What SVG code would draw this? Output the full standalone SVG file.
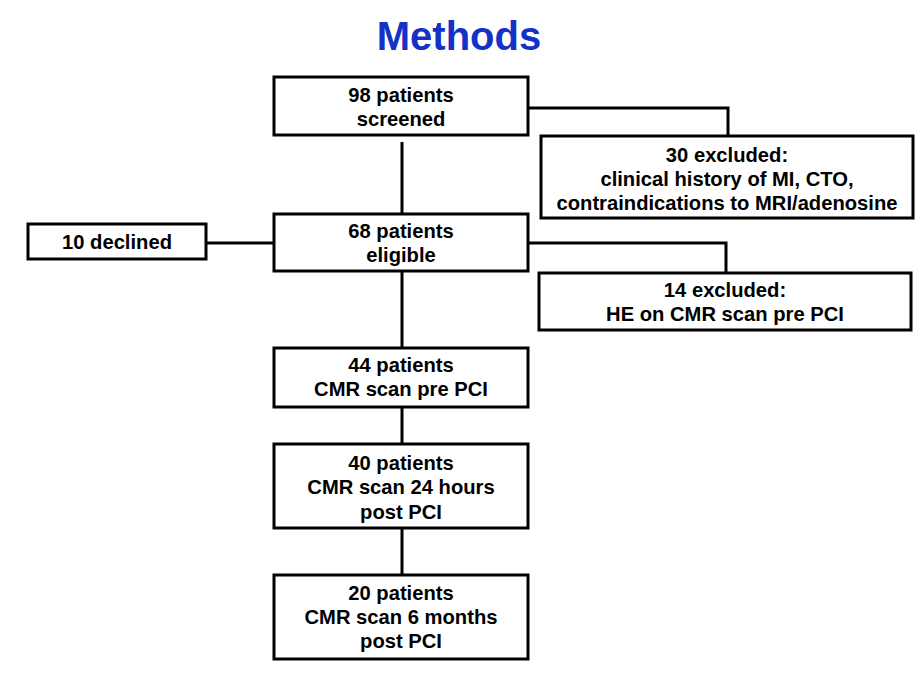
<svg xmlns="http://www.w3.org/2000/svg" width="920" height="690" viewBox="0 0 920 690">
<style>
.box{fill:#fff;stroke:#000;stroke-width:3}
.t{font-family:"Liberation Sans",Arial,sans-serif;font-weight:bold;font-size:20.2px;fill:#000;text-anchor:middle}
.title{font-family:"Liberation Sans",Arial,sans-serif;font-weight:bold;font-size:40px;fill:#1432c8;text-anchor:middle}
.c{fill:none;stroke:#000;stroke-width:3}
</style>
<rect width="920" height="690" fill="#fff"/>
<text class="title" x="459" y="50">Methods</text>
<g id="connectors">
<path class="c" d="M402,142 V213"/>
<path class="c" d="M529,108 H728 V135"/>
<path class="c" d="M206,243 H274"/>
<path class="c" d="M529,243 H726 V272"/>
<path class="c" d="M402,272 V347"/>
<path class="c" d="M402,407 V443"/>
<path class="c" d="M402,529 V575"/>
</g>
<g id="screened">
<rect class="box" x="274" y="77" width="254" height="58"/>
<text class="t" x="401" y="102">98 patients</text>
<text class="t" x="401" y="126">screened</text>
</g>
<g id="excluded30">
<rect class="box" x="541" y="136" width="372" height="82"/>
<text class="t" x="727" y="162">30 excluded:</text>
<text class="t" x="727" y="186">clinical history of MI, CTO,</text>
<text class="t" x="727" y="210">contraindications to MRI/adenosine</text>
</g>
<g id="declined">
<rect class="box" x="28" y="224" width="178" height="35"/>
<text class="t" x="117" y="249">10 declined</text>
</g>
<g id="eligible">
<rect class="box" x="274" y="214" width="254" height="57"/>
<text class="t" x="401" y="238">68 patients</text>
<text class="t" x="401" y="262">eligible</text>
</g>
<g id="excluded14">
<rect class="box" x="539" y="273" width="372" height="57"/>
<text class="t" x="725" y="297">14 excluded:</text>
<text class="t" x="725" y="321">HE on CMR scan pre PCI</text>
</g>
<g id="pre">
<rect class="box" x="274" y="348" width="254" height="59"/>
<text class="t" x="401" y="372">44 patients</text>
<text class="t" x="401" y="396">CMR scan pre PCI</text>
</g>
<g id="post24">
<rect class="box" x="274" y="444" width="254" height="84"/>
<text class="t" x="401" y="470">40 patients</text>
<text class="t" x="401" y="494">CMR scan 24 hours</text>
<text class="t" x="401" y="519">post PCI</text>
</g>
<g id="post6m">
<rect class="box" x="274" y="575" width="254" height="84"/>
<text class="t" x="401" y="600">20 patients</text>
<text class="t" x="401" y="624">CMR scan 6 months</text>
<text class="t" x="401" y="648">post PCI</text>
</g>
</svg>
